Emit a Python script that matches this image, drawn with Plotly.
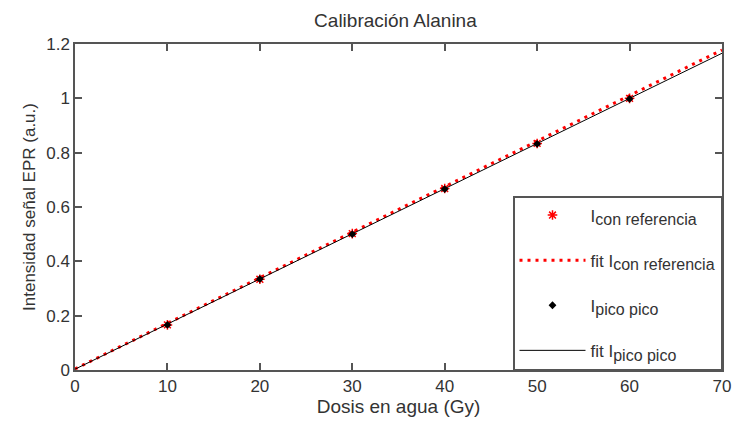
import plotly.graph_objects as go

dose = [10, 20, 30, 40, 50, 60]
i_ref = [0.166, 0.334, 0.502, 0.668, 0.834, 1.0]
i_pp = [0.166, 0.335, 0.5, 0.666, 0.832, 0.998]
fit_x = [0, 70]
fit_ref = [0.004, 1.178]
fit_pp = [0.003, 1.166]

xticks = [0, 10, 20, 30, 40, 50, 60, 70]
yticks = [0, 0.2, 0.4, 0.6, 0.8, 1, 1.2]
ytick_text = ["0", "0.2", "0.4", "0.6", "0.8", "1", "1.2"]

FONT = "Liberation Sans, Arial, sans-serif"
TXT = "#333"


def sub(s):
    return "<sub><span style='font-size:16px'>" + s + "</span></sub>"


fig = go.Figure()
fig.add_trace(go.Scatter(
    x=dose, y=i_ref, mode="markers", name="I" + sub("con referencia"),
    marker=dict(symbol="asterisk-open", size=8, color="red", line=dict(color="red", width=1.5)),
    legendgroup="a"))
fig.add_trace(go.Scatter(
    x=fit_x, y=fit_ref, mode="lines", name="fit I" + sub("con referencia"),
    line=dict(color="red", width=3, dash="3px,5px"), legendgroup="b"))
fig.add_trace(go.Scatter(
    x=dose, y=i_pp, mode="markers", name="I" + sub("pico pico"),
    marker=dict(symbol="diamond", size=6, color="black"), legendgroup="c"))
fig.add_trace(go.Scatter(
    x=fit_x, y=fit_pp, mode="lines", name="fit I" + sub("pico pico"),
    line=dict(color="black", width=1), legendgroup="d"))

axis_common = dict(
    showline=True, linecolor="#555", linewidth=1.5, mirror="ticks",
    ticks="inside", ticklen=7, tickcolor="#555", tickwidth=1.5,
    showgrid=False, zeroline=False, automargin=False,
    tickfont=dict(family=FONT, size=17, color=TXT),
)

fig.update_layout(
    width=735, height=425,
    margin=dict(l=75, r=13, t=44, b=55),
    plot_bgcolor="white", paper_bgcolor="white",
    font=dict(family=FONT, size=17, color=TXT),
    title=dict(text="Calibración Alanina", xref="container", x=0.538, xanchor="center",
               yref="container", y=0.953, yanchor="middle",
               font=dict(family=FONT, size=19, color=TXT)),
    xaxis=dict(range=[0, 70], tickvals=xticks,
               title=dict(text="Dosis en agua (Gy)", standoff=4, font=dict(size=19)),
               **axis_common),
    yaxis=dict(range=[0, 1.2], tickvals=yticks, ticktext=ytick_text,
               title=dict(text="Intensidad señal EPR (a.u.)", standoff=6, font=dict(size=17)),
               **axis_common),
    legend=dict(x=1, y=0, xanchor="right", yanchor="bottom",
                bordercolor="#555", borderwidth=1.5, bgcolor="white",
                font=dict(family=FONT, size=17, color=TXT),
                tracegroupgap=20, itemwidth=66),
    showlegend=True,
)

fig.write_html("out.html")
